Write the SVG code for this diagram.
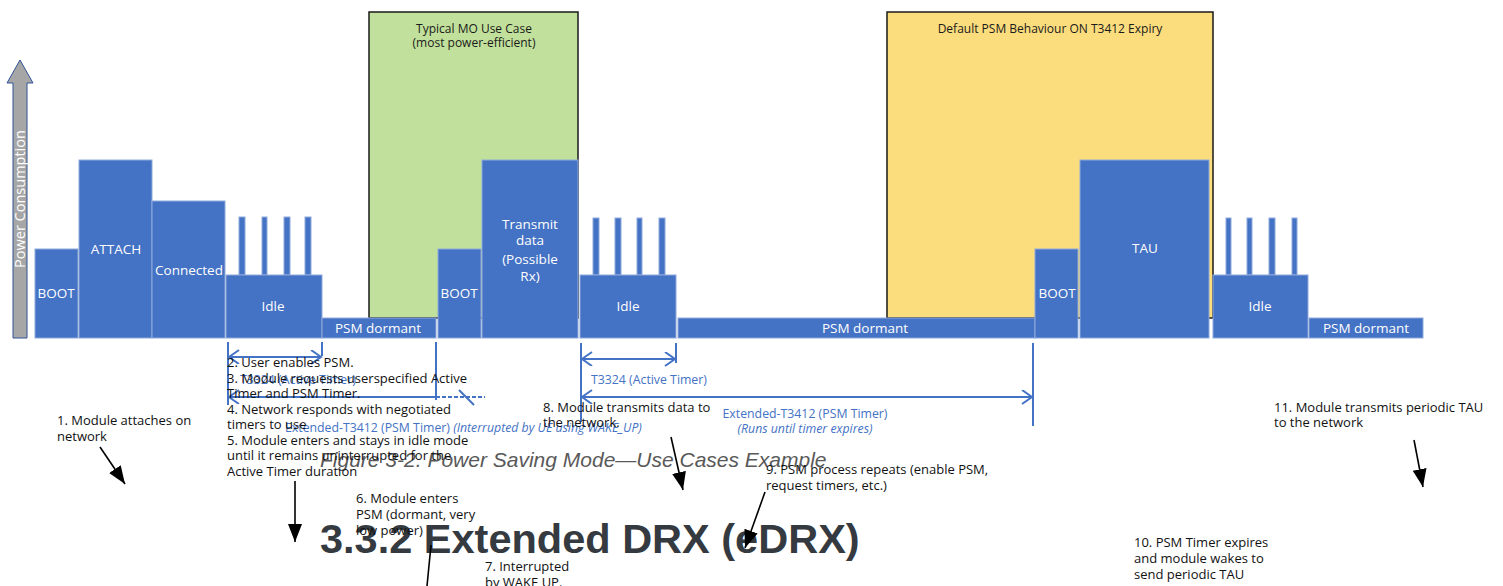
<svg xmlns="http://www.w3.org/2000/svg" width="1503" height="586" viewBox="0 0 1503 586">
<style>
.bx{fill:#4472c4;stroke:#8faadc;stroke-width:1}
.lb{font-family:"Open Sans","Liberation Sans",sans-serif;font-size:13.5px;fill:#ffffff;text-anchor:middle}
.hd{font-family:"Open Sans","Liberation Sans",sans-serif;font-size:12px;fill:#1a1a1a;text-anchor:middle}
.an{font-family:"Open Sans","Liberation Sans",sans-serif;font-size:13px;fill:#111111}
.tm{font-family:"Open Sans","Liberation Sans",sans-serif;font-size:12.3px;fill:#4472c4}
.it{font-style:italic}
.tk{stroke:#4472c4;stroke-width:2;fill:none}
.ba{stroke:#000;stroke-width:1.6;fill:none;marker-end:url(#bh)}
</style>
<defs>
<marker id="bh" markerUnits="userSpaceOnUse" markerWidth="20" markerHeight="16" refX="18" refY="7" orient="auto"><path d="M0,0 L18,7 L0,14 z" fill="#000"/></marker>
<marker id="oh" markerUnits="userSpaceOnUse" markerWidth="14" markerHeight="16" refX="11" refY="7" orient="auto-start-reverse"><path d="M1,0 L11,7 L1,14" fill="none" stroke="#4472c4" stroke-width="2"/></marker>
</defs>
<rect width="1503" height="586" fill="#ffffff"/>

<g id="page-overlay">
<text x="320" y="467" font-family="Liberation Sans,Arial,sans-serif" font-size="21" font-style="italic" fill="#595959">Figure 3-2. Power Saving Mode—Use Cases Example</text>
<text x="320" y="553" font-family="Liberation Sans,Arial,sans-serif" font-size="41.5" font-weight="bold" fill="#343a40">3.3.2 Extended DRX (eDRX)</text>
</g>

<g id="highlight-mo">
<rect x="369" y="12" width="209" height="306" fill="#c1e09b" stroke="#1a1a1a" stroke-width="1.5"/>
<text class="hd" x="474" y="33">Typical MO Use Case</text>
<text class="hd" x="474" y="47">(most power-efficient)</text>
</g>
<g id="highlight-default">
<rect x="887" y="12" width="326" height="306" fill="#fcdd7e" stroke="#1a1a1a" stroke-width="1.5"/>
<text class="hd" x="1050" y="33">Default PSM Behaviour ON T3412 Expiry</text>
</g>

<g id="axis">
<polygon points="13,338 13,83 7,83 20,60 33,83 27,83 27,338" fill="#a6a6a6" stroke="#2f5597" stroke-width="1"/>
<text class="lb" style="font-size:14.5px" transform="translate(25,199) rotate(-90)">Power Consumption</text>
</g>

<g id="boot1"><rect class="bx" x="35" y="249" width="43" height="89"/><text class="lb" x="56" y="298">BOOT</text></g>
<g id="attach"><rect class="bx" x="79" y="160" width="73" height="178"/><text class="lb" x="116" y="254">ATTACH</text></g>
<g id="connected"><rect class="bx" x="152" y="201" width="73" height="137"/><text class="lb" x="189" y="275">Connected</text></g>
<g id="idle1">
<rect class="bx" x="239" y="217" width="6" height="58"/><rect class="bx" x="262" y="217" width="5" height="58"/><rect class="bx" x="284" y="217" width="6" height="58"/><rect class="bx" x="305" y="217" width="6" height="58"/>
<rect class="bx" x="226" y="275" width="96" height="63"/><text class="lb" x="273" y="311">Idle</text></g>
<g id="psm1"><rect class="bx" x="322" y="318" width="114" height="20"/><text class="lb" x="378" y="333">PSM dormant</text></g>
<g id="boot2"><rect class="bx" x="438" y="249" width="43" height="89"/><text class="lb" x="459" y="298">BOOT</text></g>
<g id="transmit"><rect class="bx" x="482" y="160" width="96" height="178"/>
<text class="lb" x="530" y="229">Transmit</text><text class="lb" x="530" y="245">data</text><text class="lb" x="530" y="264">(Possible</text><text class="lb" x="530" y="281">Rx)</text></g>
<g id="idle2">
<rect class="bx" x="593" y="218" width="6" height="57"/><rect class="bx" x="615" y="218" width="6" height="57"/><rect class="bx" x="637" y="218" width="5" height="57"/><rect class="bx" x="659" y="218" width="6" height="57"/>
<rect class="bx" x="580" y="275" width="96" height="63"/><text class="lb" x="628" y="311">Idle</text></g>
<g id="psm2"><rect class="bx" x="678" y="318" width="357" height="20"/><text class="lb" x="865" y="333">PSM dormant</text></g>
<g id="boot3"><rect class="bx" x="1035" y="249" width="43" height="89"/><text class="lb" x="1057" y="298">BOOT</text></g>
<g id="tau"><rect class="bx" x="1080" y="160" width="129" height="178"/><text class="lb" x="1145" y="253">TAU</text></g>
<g id="idle3">
<rect class="bx" x="1226" y="218" width="5" height="57"/><rect class="bx" x="1247" y="218" width="5" height="57"/><rect class="bx" x="1269" y="218" width="6" height="57"/><rect class="bx" x="1292" y="218" width="5" height="57"/>
<rect class="bx" x="1213" y="275" width="95" height="63"/><text class="lb" x="1260" y="311">Idle</text></g>
<g id="psm3"><rect class="bx" x="1309" y="318" width="114" height="20"/><text class="lb" x="1366" y="333">PSM dormant</text></g>

<g id="timers">
<line class="tk" x1="228" y1="342" x2="228" y2="405"/>
<line class="tk" x1="322" y1="342" x2="322" y2="356"/>
<line class="tk" x1="436" y1="342" x2="436" y2="400"/>
<line class="tk" x1="229" y1="357" x2="321" y2="357" marker-start="url(#oh)" marker-end="url(#oh)"/>
<line class="tk" x1="229" y1="397" x2="436" y2="397" marker-start="url(#oh)"/>
<line class="tk" x1="436" y1="397" x2="485" y2="397" stroke-dasharray="4 2"/>
<line class="tk" x1="459" y1="390" x2="474" y2="405"/>
<text class="tm" x="240" y="384">T3324 (Active Timer)</text>
<text class="tm" x="285" y="432">Extended-T3412 (PSM Timer) <tspan class="it">(Interrupted by UE using WAKE_UP)</tspan></text>
<line class="tk" x1="581" y1="343" x2="581" y2="422"/>
<line class="tk" x1="676" y1="343" x2="676" y2="363"/>
<line class="tk" x1="1033" y1="343" x2="1033" y2="426"/>
<line class="tk" x1="582" y1="359" x2="675" y2="359" marker-start="url(#oh)" marker-end="url(#oh)"/>
<line class="tk" x1="582" y1="397" x2="1032" y2="397" marker-start="url(#oh)" marker-end="url(#oh)"/>
<text class="tm" x="591" y="384">T3324 (Active Timer)</text>
<text class="tm" x="805" y="418" text-anchor="middle">Extended-T3412 (PSM Timer)</text>
<text class="tm it" x="805" y="433" text-anchor="middle">(Runs until timer expires)</text>
</g>

<g id="notes">
<text class="an" x="57" y="425">1. Module attaches on</text>
<text class="an" x="57" y="441">network</text>
<text class="an" x="227" y="367">2. User enables PSM.</text>
<text class="an" x="227" y="383">3. Module requests userspecified Active</text>
<text class="an" x="227" y="398">Timer and PSM Timer.</text>
<text class="an" x="227" y="414">4. Network responds with negotiated</text>
<text class="an" x="227" y="429">timers to use</text>
<text class="an" x="227" y="445">5. Module enters and stays in idle mode</text>
<text class="an" x="227" y="460">until it remains uninterrupted for the</text>
<text class="an" x="227" y="476">Active Timer duration</text>
<text class="an" x="356" y="503">6. Module enters</text>
<text class="an" x="356" y="519">PSM (dormant, very</text>
<text class="an" x="356" y="535">low power)</text>
<text class="an" x="485" y="571">7. Interrupted</text>
<text class="an" x="485" y="587">by WAKE UP.</text>
<text class="an" x="543" y="412">8. Module transmits data to</text>
<text class="an" x="543" y="427">the network.</text>
<text class="an" x="766" y="474">9. PSM process repeats (enable PSM,</text>
<text class="an" x="766" y="490">request timers, etc.)</text>
<text class="an" x="1134" y="547">10. PSM Timer expires</text>
<text class="an" x="1134" y="563">and module wakes to</text>
<text class="an" x="1134" y="579">send periodic TAU</text>
<text class="an" x="1274" y="412">11. Module transmits periodic TAU</text>
<text class="an" x="1274" y="427">to the network</text>
</g>

<g id="connectors">
<line class="ba" x1="100" y1="447" x2="125" y2="484"/>
<line class="ba" x1="295" y1="481" x2="295" y2="542"/>
<line x1="431" y1="545" x2="427" y2="586" stroke="#000" stroke-width="1.6"/>
<line class="ba" x1="671" y1="437" x2="683" y2="490"/>
<line class="ba" x1="765" y1="492" x2="745" y2="548"/>
<line class="ba" x1="1414" y1="440" x2="1423" y2="487"/>
</g>
</svg>
